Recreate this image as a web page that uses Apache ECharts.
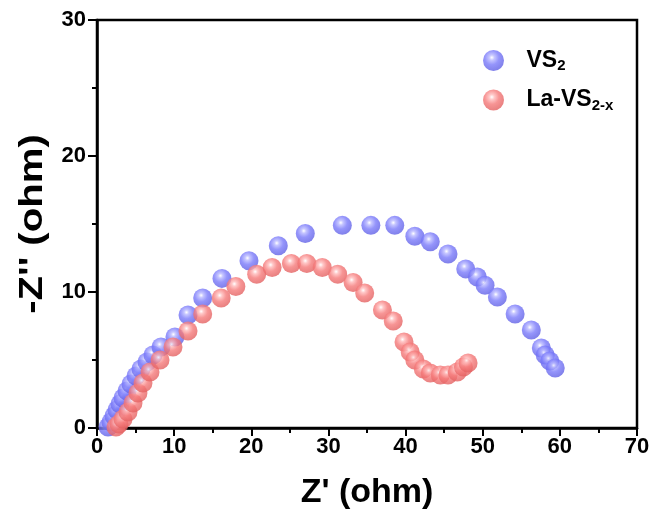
<!DOCTYPE html>
<html>
<head>
<meta charset="utf-8">
<script src="https://cdn.jsdelivr.net/npm/echarts@6/dist/echarts.min.js"></script>
<style>html,body{margin:0;padding:0;background:#fff}#c{width:652px;height:515px}</style>
</head>
<body>
<div id="c"></div>
<script>
// Data
const vsX = [1.43,1.81,2.2,2.59,2.98,3.37,3.89,4.41,5.06,5.7,6.48,7.26,8.3,10.1,11.8,13.7,16.2,19.7,23.5,27.0,31.8,35.5,38.6,41.2,43.2,45.5,47.8,49.3,50.3,51.9,54.2,56.3,57.6,58.1,58.7,59.4];
const vsY = [0.07,0.44,0.88,1.32,1.76,2.2,2.72,3.24,3.82,4.34,4.85,5.37,5.96,6.69,8.31,9.56,11.0,12.3,13.4,14.3,14.9,14.9,14.9,14.1,13.7,12.8,11.7,11.1,10.5,9.63,8.38,7.21,5.88,5.37,4.93,4.41];
const laX = [2.46,2.85,3.37,4.02,4.67,5.31,5.96,6.87,8.17,9.85,11.8,13.7,16.1,18.0,20.7,22.7,25.2,27.2,29.2,31.2,33.2,34.7,37.0,38.4,39.8,40.6,41.2,42.3,43.2,44.5,45.5,46.7,47.5,48.1];
const laY = [0.07,0.29,0.66,1.18,1.84,2.57,3.31,4.12,5.0,5.96,7.13,8.38,9.56,10.4,11.3,11.8,12.1,12.1,11.8,11.3,10.7,9.93,8.68,7.87,6.32,5.59,5.0,4.34,4.04,3.9,3.9,4.12,4.49,4.78];
const seriesNames = ['VS2', 'La-VS2-x'];
const xTicks = [0, 10, 20, 30, 40, 50, 60, 70];
const yTicks = [0, 10, 20, 30];
const xTitle = "Z' (ohm)";
const yTitle = "-Z'' (ohm)";

const FONT = "'Liberation Sans', Arial, sans-serif";
function ball(base, dark, light) {
  return {type:'radial', x:0.42, y:0.36, r:0.62, colorStops:[
    {offset:0, color:'#ffffff'},
    {offset:0.2, color:light},
    {offset:0.55, color:base},
    {offset:1, color:dark}
  ]};
}
const zip = (a, b) => a.map((v, i) => [v, b[i]]);

const chart = echarts.init(document.getElementById('c'), null, {renderer:'canvas'});
chart.setOption({
  animation:false,
  backgroundColor:'#fff',
  grid:{left:97, right:15, top:20, bottom:87, outerBoundsMode:'none', containLabel:false,
        show:true, borderColor:'#000', borderWidth:2.5, backgroundColor:'transparent'},
  legend:{
    orient:'vertical', left:478, top:44, itemGap:15, itemWidth:56, itemHeight:21, icon:'circle',
    data:seriesNames,
    textStyle:{fontFamily:FONT, fontWeight:'bold', fontSize:23, color:'#000',
      rich:{sub:{fontFamily:FONT, fontWeight:'bold', fontSize:15, color:'#000', padding:[11,0,0,0]}}},
    formatter: n => n === 'VS2' ? 'VS{sub|2}' : 'La-VS{sub|2-x}'
  },
  graphic:[{
    type:'text', x:33, y:224, rotation:Math.PI/2, scaleX:1.18, scaleY:1,
    style:{text:yTitle, fontFamily:FONT, fontWeight:'bold', fontSize:34, fill:'#000',
           align:'center', verticalAlign:'middle'}
  }],
  xAxis:{
    type:'value', min:xTicks[0], max:xTicks[xTicks.length-1], interval:10,
    name:xTitle, nameLocation:'middle', nameGap:48,
    nameTextStyle:{fontFamily:FONT, fontWeight:'bold', fontSize:34, color:'#000'},
    axisLine:{lineStyle:{color:'#000', width:2.5}},
    axisTick:{inside:false, length:8, lineStyle:{color:'#000', width:2}},
    minorTick:{show:true, splitNumber:2, length:5, lineStyle:{color:'#000', width:2}},
    splitLine:{show:false},
    axisLabel:{fontFamily:FONT, fontWeight:'bold', fontSize:22, color:'#000', margin:8}
  },
  yAxis:{
    type:'value', min:yTicks[0], max:yTicks[yTicks.length-1], interval:10,
    axisLine:{lineStyle:{color:'#000', width:2.5}},
    axisTick:{inside:false, length:9, lineStyle:{color:'#000', width:2}},
    minorTick:{show:true, splitNumber:2, length:5, lineStyle:{color:'#000', width:2}},
    splitLine:{show:false},
    axisLabel:{fontFamily:FONT, fontWeight:'bold', fontSize:22, color:'#000', margin:11}
  },
  series:[
    {name:seriesNames[0], type:'scatter', symbol:'circle', symbolSize:19, clip:true,
     itemStyle:{color:ball('#7a7afa', '#6262e6', '#b7b7ff')}, data:zip(vsX, vsY)},
    {name:seriesNames[1], type:'scatter', symbol:'circle', symbolSize:19, clip:true,
     itemStyle:{color:ball('#f57a7a', '#e46262', '#ffbaba')}, data:zip(laX, laY)}
  ]
});
</script>
</body>
</html>
